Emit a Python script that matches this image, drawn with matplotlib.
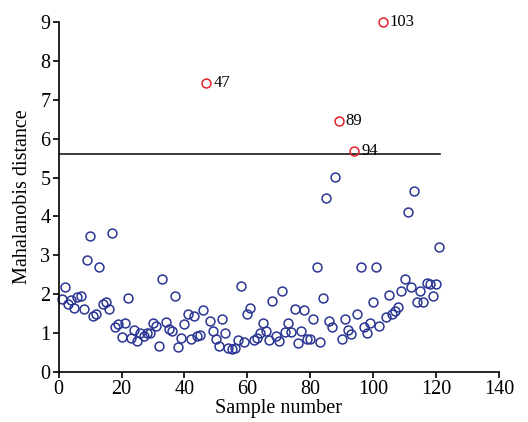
import matplotlib
matplotlib.use("Agg")
import matplotlib.pyplot as plt
import numpy as np

plt.rcParams['font.family'] = ['Liberation Serif', 'DejaVu Serif']

sample = list(range(1, 122))
distance = [1.87, 2.19, 1.74, 1.86, 1.63, 1.92, 1.95, 1.61, 2.87, 3.50,
            1.43, 1.50, 2.69, 1.74, 1.79, 1.61, 3.58, 1.15, 1.22, 0.90,
            1.25, 1.91, 0.88, 1.08, 0.79, 1.01, 0.93, 1.01, 1.01, 1.25,
            1.19, 0.66, 2.40, 1.27, 1.10, 1.05, 1.95, 0.64, 0.88, 1.22,
            1.49, 0.84, 1.43, 0.93, 0.95, 1.58, 7.45, 1.31, 1.05, 0.85,
            0.66, 1.35, 1.01, 0.61, 0.58, 0.61, 0.82, 2.22, 0.76, 1.48,
            1.63, 0.82, 0.88, 1.01, 1.25, 1.04, 0.82, 1.82, 0.92, 0.80,
            2.09, 1.03, 1.25, 1.03, 1.61, 0.75, 1.06, 1.58, 0.85, 0.85,
            1.37, 2.71, 0.77, 1.91, 4.48, 1.30, 1.16, 5.01, 6.45, 0.84,
            1.35, 1.07, 0.97, 5.69, 1.50, 2.71, 1.16, 1.01, 1.25, 1.80,
            2.71, 1.19, 9.00, 1.42, 1.98, 1.49, 1.56, 1.67, 2.09, 2.38,
            4.12, 2.19, 4.66, 1.80, 2.08, 1.81, 2.29, 2.27, 1.95, 2.26,
            3.21]
outliers = [47, 89, 94, 103]
threshold = 5.61
threshold_end = 121.2

fig = plt.figure(figsize=(5.28, 4.22), dpi=100)
ax = fig.add_axes([0.111, 0.119, 0.834, 0.828])

xs = np.array(sample)
ys = np.array(distance)
mask = np.isin(xs, outliers)
ax.plot(xs[~mask], ys[~mask], 'o', ms=6.4, mfc='none', mec='#2a3593', mew=1.1, clip_on=False)
ax.plot(xs[mask], ys[mask], 'o', ms=6.4, mfc='none', mec='#e8202a', mew=1.1, clip_on=False, zorder=3)
ax.plot([0, threshold_end], [threshold, threshold], color='#1a1a1a', lw=1.2)

for s in outliers:
    ax.annotate(str(s), (s, distance[s - 1]), xytext=(5, 0), textcoords='offset points',
                va='center', ha='left', fontsize=12)

ax.set_xlim(0, 140)
ax.set_ylim(0, 9)
ax.set_xticks(range(0, 141, 20))
ax.set_yticks(range(0, 10))
ax.spines['top'].set_visible(False)
ax.spines['right'].set_visible(False)
ax.spines['left'].set_linewidth(1.2)
ax.spines['bottom'].set_linewidth(1.2)
ax.tick_params(direction='out', length=4, width=1.2, labelsize=14.5, pad=2)
ax.set_xlabel('Sample number', fontsize=14.5, labelpad=0)
ax.set_ylabel('Mahalanobis distance', fontsize=14.5, labelpad=6)

fig.savefig('out.png', dpi=100, facecolor='white')
